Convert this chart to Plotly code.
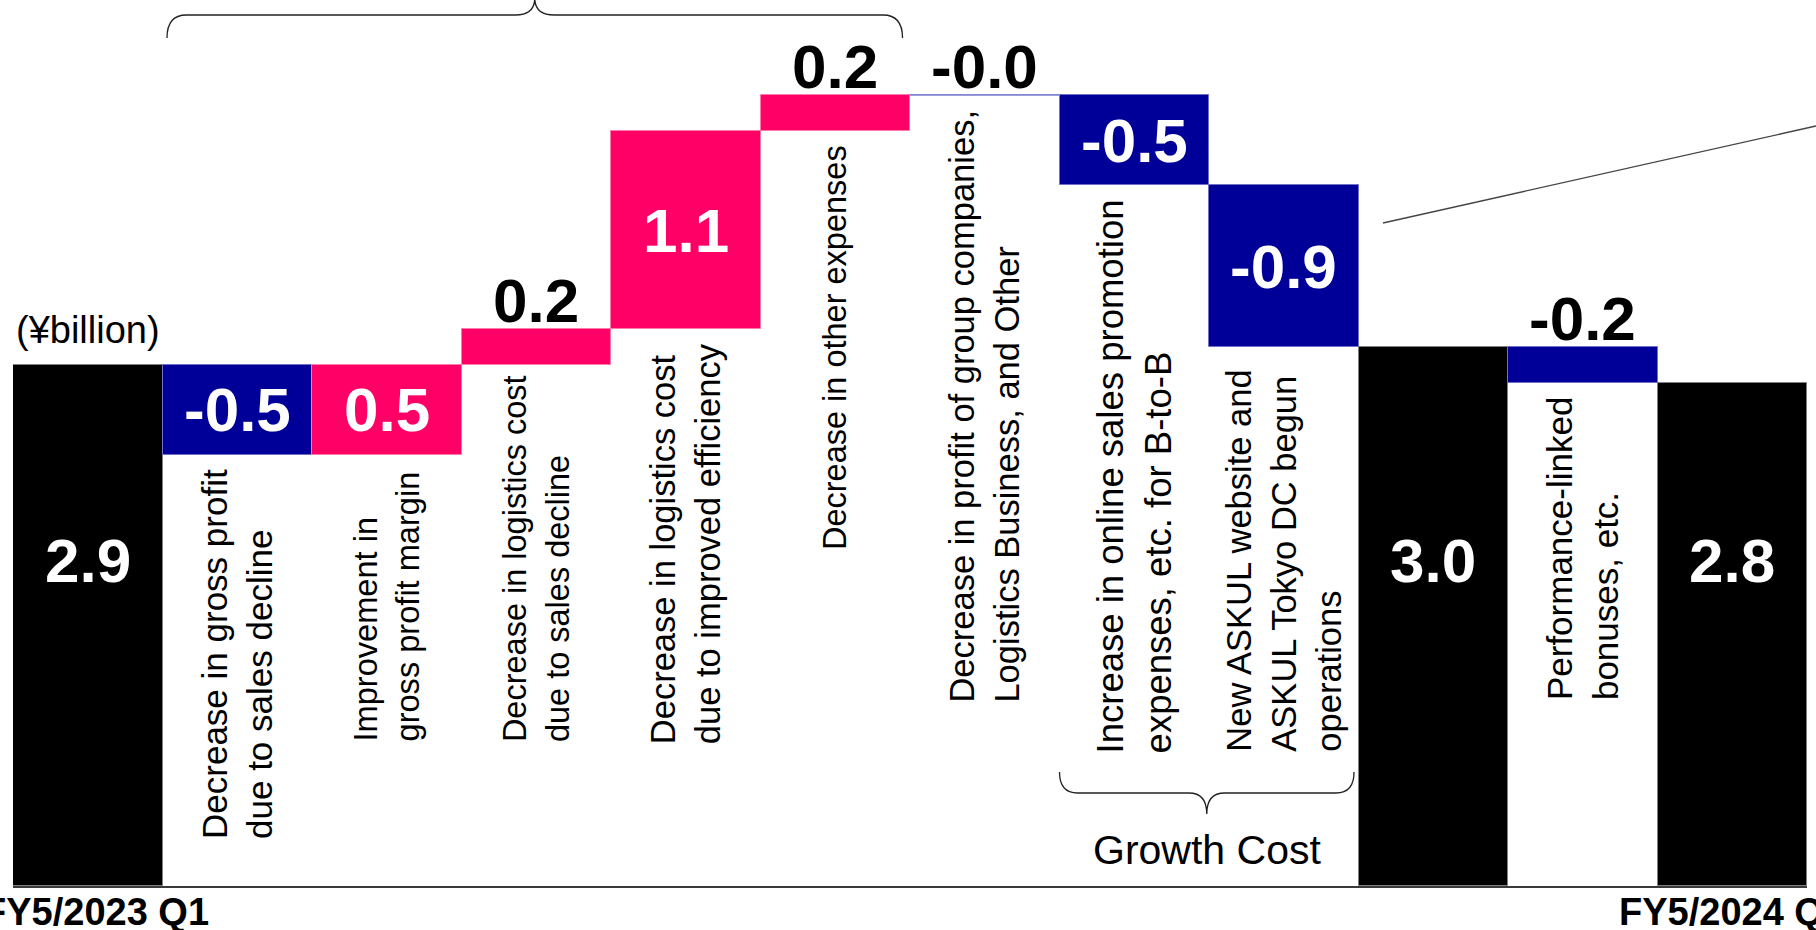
import math
import plotly.graph_objects as go

# ---- data -------------------------------------------------------------
steps = [
    "FY5/2023 Q1",
    "Decrease in gross profit<br>due to sales decline",
    "Improvement in<br>gross profit margin",
    "Decrease in logistics cost<br>due to sales decline",
    "Decrease in logistics cost<br>due to improved efficiency",
    "Decrease in other expenses",
    "Decrease in profit of group companies,<br>Logistics Business, and Other",
    "Increase in online sales promotion<br>expenses, etc. for B-to-B",
    "New ASKUL website and<br>ASKUL Tokyo DC begun<br>operations",
    "FY5/2024 Q1 (before)",
    "Performance-linked<br>bonuses, etc.",
    "FY5/2024 Q1",
]
values = [2.9, -0.5, 0.5, 0.2, 1.1, 0.2, -0.0, -0.5, -0.9, 3.0, -0.2, 2.8]
measures = ["total", "delta", "delta", "delta", "delta", "delta",
            "delta", "delta", "delta", "total", "delta", "total"]
period_labels = {0: "FY5/2023 Q1", 11: "FY5/2024 Q1"}
unit_label = "(¥billion)"
group_label = "Growth Cost"

# ---- style ------------------------------------------------------------
PINK = "#ff0066"
BLUE = "#000099"
BLACK = "#000000"
FONT = "Liberation Sans, Arial, sans-serif"
W, H = 1816, 930
ML, MR, MT, MB = 13, 9, 0, 44
PX_PER_UNIT = 179.7
Y_MAX = (H - MT - MB) / PX_PER_UNIT
VALUE_SIZE = 62
TOTAL_LABEL_Y = 1.814

# per-step caption font size and gap (px) below the bar
CAPTION_SIZE = {1: 35, 2: 32.6, 3: 32.5, 4: 34.5, 5: 32.5, 6: 34.5, 7: 36.5, 8: 34.5, 10: 35}
CAPTION_GAP = {1: 12, 2: 15, 3: 8.5, 4: 12, 5: 12, 6: 12, 7: 12, 8: 21, 10: 12}
PERIOD_SHIFT = {0: 8, 11: 0}

# ---- waterfall geometry ----------------------------------------------
x = list(range(len(values)))
bases, colors, edges = [], [], []
level = 0.0
for v, m in zip(values, measures):
    if m == "total":
        bases.append(0.0)
        colors.append(BLACK)
        edges.append("#808080")
        level = v
    else:
        bases.append(level)
        up = math.copysign(1.0, v) > 0
        colors.append(PINK if up else BLUE)
        edges.append("#ff7aa8" if up else "#7070c8")
        level += v

fig = go.Figure()
fig.add_trace(go.Bar(
    x=x, y=values, base=bases,
    marker=dict(color=colors, line=dict(color=edges, width=1)),
    hoverinfo="skip", showlegend=False,
))

# zero-height steps are shown as a thin rule at their level
for i, (v, m, b) in enumerate(zip(values, measures, bases)):
    if m == "delta" and v == 0:
        fig.add_trace(go.Scatter(
            x=[i - 0.5, i + 0.5], y=[b, b], mode="lines",
            line=dict(color="#9c9cdc", width=1.5),
            hoverinfo="skip", showlegend=False,
        ))

annotations = []
for i, (v, m, b, name) in enumerate(zip(values, measures, bases, steps)):
    label = f"{v:.1f}"
    if m == "total":
        annotations.append(dict(
            x=i, y=TOTAL_LABEL_Y, xref="x", yref="y", text=f"<b>{label}</b>",
            showarrow=False, xanchor="center", yanchor="middle",
            font=dict(family=FONT, size=VALUE_SIZE, color="white"),
        ))
        continue
    top, bottom = max(b, b + v), min(b, b + v)
    if abs(v) >= 0.5:
        annotations.append(dict(
            x=i, y=b + v / 2, xref="x", yref="y", text=f"<b>{label}</b>",
            showarrow=False, xanchor="center", yanchor="middle",
            font=dict(family=FONT, size=VALUE_SIZE, color="white"),
        ))
    else:
        annotations.append(dict(
            x=i, y=top, xref="x", yref="y", text=f"<b>{label}</b>",
            showarrow=False, xanchor="center", yanchor="bottom", yshift=-8,
            font=dict(family=FONT, size=VALUE_SIZE, color="black"),
        ))
    annotations.append(dict(
        x=i, y=bottom, xref="x", yref="y", text=name,
        showarrow=False, textangle=-90, align="left",
        xanchor="center", yanchor="top", yshift=-CAPTION_GAP.get(i, 12),
        font=dict(family=FONT, size=CAPTION_SIZE.get(i, 35), color="black"),
    ))

for i, txt in period_labels.items():
    annotations.append(dict(
        x=i, y=0, xref="x", yref="paper", text=f"<b>{txt}</b>",
        showarrow=False, xanchor="center", yanchor="top", yshift=-3,
        xshift=PERIOD_SHIFT.get(i, 0),
        font=dict(family=FONT, size=38, color="black"),
    ))

annotations.append(dict(
    x=0, y=values[0], xref="x", yref="y", text=unit_label,
    showarrow=False, xanchor="center", yanchor="bottom", yshift=12,
    font=dict(family=FONT, size=38, color="black"),
))


def brace_path(x0, x1, y_end, y_mid, y_tip, r):
    xm = (x0 + x1) / 2
    return (f"M {x0},{y_end} Q {x0},{y_mid} {x0 + r},{y_mid} "
            f"L {xm - r},{y_mid} Q {xm},{y_mid} {xm},{y_tip} "
            f"Q {xm},{y_mid} {xm + r},{y_mid} L {x1 - r},{y_mid} "
            f"Q {x1},{y_mid} {x1},{y_end}")


plot_h = H - MT - MB
def py(pix):
    return (plot_h - pix) / plot_h

shapes = [
    # brace over the cost-efficiency steps
    dict(type="path", xref="x", yref="paper",
         path=brace_path(0.53, 5.45, py(38), py(15), py(-2), 0.13),
         line=dict(color="#222222", width=1.3)),
    # brace under the growth-cost steps
    dict(type="path", xref="x", yref="paper",
         path=brace_path(6.5, 8.47, py(772), py(793), py(814), 0.12),
         line=dict(color="#222222", width=1.3)),
    # leader line running off to the right
    dict(type="line", xref="paper", yref="paper",
         x0=(1383 - ML) / (W - ML - MR), y0=py(223),
         x1=(1816 - ML) / (W - ML - MR), y1=py(126),
         line=dict(color="#444444", width=1.3)),
]

annotations.append(dict(
    x=(6.5 + 8.47) / 2, y=py(850), xref="x", yref="paper", text=group_label,
    showarrow=False, xanchor="center", yanchor="middle",
    font=dict(family=FONT, size=41, color="black"),
))

fig.update_layout(
    width=W, height=H,
    margin=dict(l=ML, r=MR, t=MT, b=MB, pad=0),
    paper_bgcolor="white", plot_bgcolor="white",
    bargap=0,
    xaxis=dict(range=[-0.5, len(values) - 0.5], showticklabels=False,
               showgrid=False, zeroline=False, ticks="",
               showline=True, linecolor="#3a3a3a", linewidth=1.5),
    yaxis=dict(range=[0, Y_MAX], visible=False, showgrid=False, zeroline=False),
    annotations=annotations,
    shapes=shapes,
    showlegend=False,
)

fig.write_html("out.html")
